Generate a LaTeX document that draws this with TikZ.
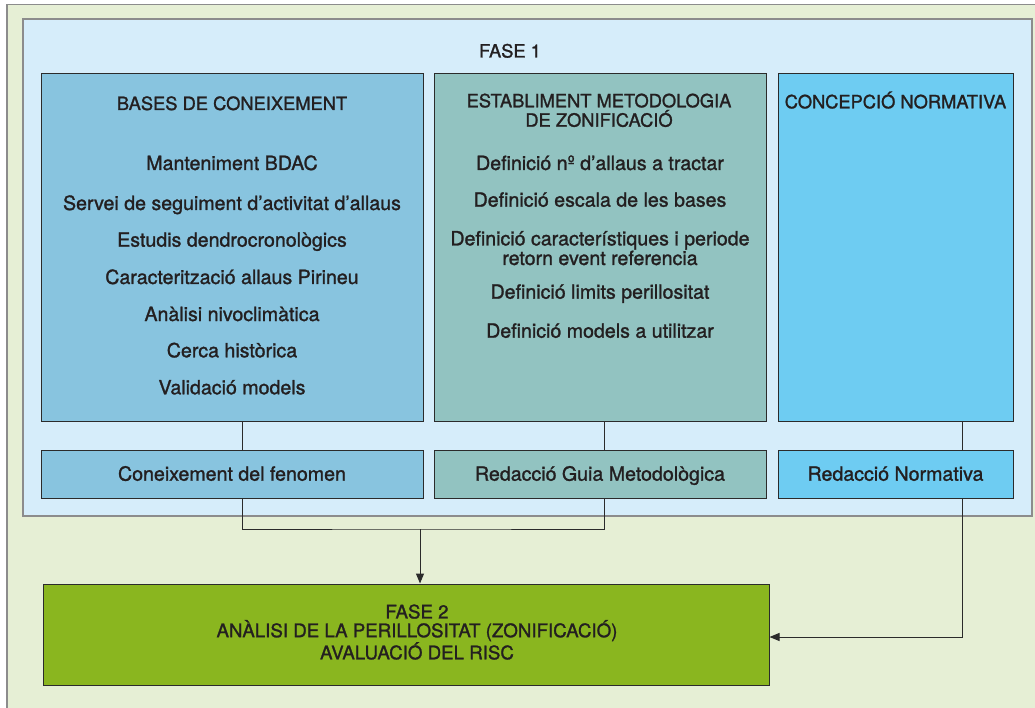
\documentclass[tikz,border=0pt]{standalone}
\usepackage{fontspec}
\setmainfont{TeX Gyre Heros}[FakeBold=1.3]
\usetikzlibrary{arrows.meta}
\definecolor{fonsverd}{HTML}{E6EFD5}
\definecolor{fonsblau}{HTML}{D6EDFA}
\definecolor{blaubase}{HTML}{88C4DF}
\definecolor{verdmetode}{HTML}{92C3C1}
\definecolor{blaunorma}{HTML}{6ECCF2}
\definecolor{verdfase}{HTML}{8AB61F}
\definecolor{linia}{HTML}{2B2B2B}
\definecolor{vora}{HTML}{8C8C8C}
\definecolor{tinta}{HTML}{231F20}
\tikzset{
  caixa/.style={draw=linia, line width=1pt, inner sep=0pt},
  titol/.style={font=\fontsize{18.3}{19.4}\selectfont, text=tinta, align=center, anchor=base},
  item/.style={font=\fontsize{19.6}{18.3}\selectfont, text=tinta, align=center, anchor=base},
  connector/.style={draw=linia, line width=1pt},
  fletxa/.style={connector, -{Triangle[length=10pt,width=8pt]}},
}
\begin{document}
\begin{tikzpicture}[x=1pt,y=-1pt]
            \useasboundingbox (0,0) rectangle (1035,708);
            \clip (0,0) rectangle (1035,708);
            % fons i fase 1
            \draw[fill=fonsverd, draw=vora, line width=1.6pt] (7,4.5) rectangle (1045,720);
            \draw[fill=fonsblau, draw=vora, line width=1.2pt] (23,19) rectangle (1032,516);
            \node[titol] (fase1) at (510,57.5) {FASE 1};
            % columnes
            \node[caixa, fill=blaubase, minimum width=382pt, minimum height=347pt] (bases) at (232,247.5) {};
            \node[caixa, fill=verdmetode, minimum width=332pt, minimum height=347pt] (metode) at (600,247.5) {};
            \node[caixa, fill=blaunorma, minimum width=235pt, minimum height=347pt] (norma) at (895.5,247.5) {};
            \node[titol] (tbases) at (232,110) {BASES DE CONEIXEMENT};
            \node[titol] (tmetode) at (599,126.7) {ESTABLIMENT METODOLOGIA\\DE ZONIFICACIÓ};
            \node[titol] (tnorma) at (895.5,108.3) {CONCEPCIÓ NORMATIVA};
            \foreach \y/\t [count=\i] in {170/Manteniment BDAC, 210/Servei de seguiment d’activitat d’allaus,
                246.7/Estudis dendrocronològics, 284/Caracterització allaus Pirineu, 321/Anàlisi nivoclimàtica,
                357.3/Cerca històrica, 394.3/Validació models}
              \node[item] (b\i) at (232,\y) {\t};
            \node[item] (m1) at (600,170) {Definició nº d’allaus a tractar};
            \node[item] (m2) at (600,206.7) {Definició escala de les bases};
            \node[item] (m3) at (600,265) {Definició característiques i periode\\retorn event referencia};
            \node[item] (m4) at (600,298.7) {Definició limits perillositat};
            \node[item] (m5) at (600,337.7) {Definició models a utilitzar};
            % resultats
            \node[caixa, fill=blaubase, minimum width=382pt, minimum height=48pt] (coneix) at (232,474) {};
            \node[caixa, fill=verdmetode, minimum width=332pt, minimum height=48pt] (guia) at (600,474) {};
            \node[caixa, fill=blaunorma, minimum width=235pt, minimum height=48pt] (redaccio) at (895.5,474) {};
            \node[item] (tconeix) at (232,480.7) {Coneixement del fenomen};
            \node[item] (tguia) at (600,480.7) {Redacció Guia Metodològica};
            \node[item] (tredaccio) at (895.5,480.7) {Redacció Normativa};
            % fase 2
            \node[caixa, fill=verdfase, minimum width=726pt, minimum height=101pt] (fase2) at (406,634.5) {};
            \node[font=\fontsize{18.7}{18.8}\selectfont, text=tinta, align=center, anchor=base] (tfase2) at (417,659.3)
              {FASE 2\\ANÀLISI DE LA PERILLOSITAT (ZONIFICACIÓ)\\AVALUACIÓ DEL RISC};
            % connexions
            \draw[connector] ([xshift=10pt]bases.south) -- ([xshift=10pt]coneix.north);
            \draw[connector] ([xshift=4pt]metode.south) -- ([xshift=4pt]guia.north);
            \draw[connector] ([xshift=66.5pt]norma.south) -- ([xshift=66.5pt]redaccio.north);
            \coordinate (unio) at (420,529);
            \draw[connector] ([xshift=10pt]coneix.south) |- (unio) -| ([xshift=4pt]guia.south);
            \draw[fletxa] (unio) -- (unio |- fase2.north);
            \draw[fletxa] ([xshift=66.5pt]redaccio.south) |- ([yshift=-2.5pt]fase2.east);
\end{tikzpicture}
\end{document}
